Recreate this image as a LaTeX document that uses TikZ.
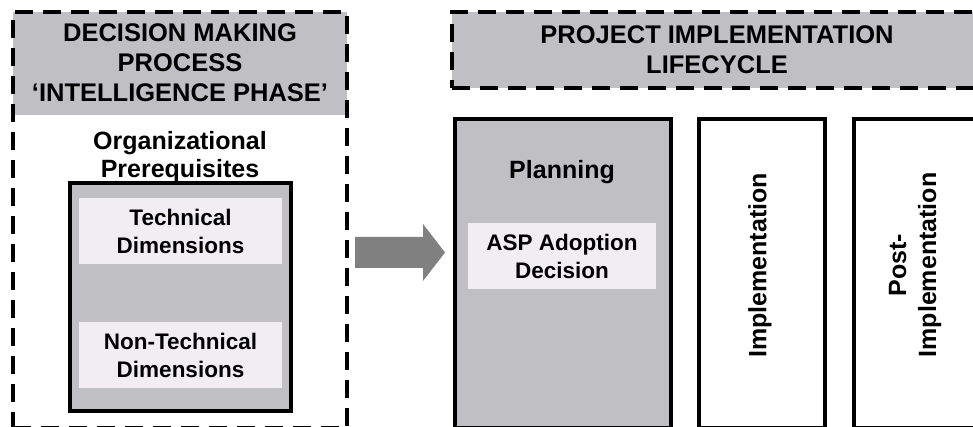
\documentclass[tikz,border=0pt]{standalone}
\usepackage{fontspec}
\setmainfont{Liberation Sans}
\usetikzlibrary{calc}
\definecolor{boxgray}{RGB}{192,191,196}
\definecolor{boxlight}{RGB}{240,238,242}
\definecolor{arrowgray}{RGB}{128,128,128}
\begin{document}
\begin{tikzpicture}[x=1pt,y=-1pt,
  every node/.style={inner sep=0pt, outer sep=0pt},
  dashframe/.style={draw=black, line width=4pt, dash pattern=on 18pt off 10pt},
  solidbox/.style={draw=black, line width=3.5pt},
  hdr/.style={font=\fontsize{25.5}{30}\selectfont\bfseries, align=center},
  lbl/.style={font=\fontsize{25}{28}\selectfont\bfseries, align=center},
  rotlbl/.style={font=\fontsize{25}{30}\selectfont\bfseries, align=center, rotate=90},
  sublbl/.style={font=\fontsize{22.5}{28}\selectfont\bfseries, align=center}
]
\useasboundingbox (0,0) rectangle (973,427);
\clip (0,0) rectangle (973,427);

% ---- left: decision making process ----
\node[fill=boxgray, minimum width=334pt, minimum height=103pt] (lefthead) at (180,63.5) {};
\node[hdr] (lefttitle) at (180,63) {DECISION MAKING\\PROCESS\\‘INTELLIGENCE PHASE’};
\node[dashframe, minimum width=334pt, minimum height=416pt] (leftframe) at (180,220) {};
\node[lbl] (orglbl) at (180,157.5) {Organizational\\Prerequisites};
\node[solidbox, fill=boxgray, minimum width=221pt, minimum height=228pt] (innerbox) at (180.5,297) {};
\node[sublbl, fill=boxlight, minimum width=203pt, minimum height=66pt] (tech) at (180.5,231) {Technical\\Dimensions};
\node[sublbl, fill=boxlight, minimum width=203pt, minimum height=66pt] (nontech) at (180.5,355) {Non-Technical\\Dimensions};

% ---- right: project implementation lifecycle ----
\node[hdr, dashframe, fill=boxgray, minimum width=530pt, minimum height=76pt] (righthead) at (717,50) {PROJECT IMPLEMENTATION\\LIFECYCLE};
\node[solidbox, fill=boxgray, minimum width=216pt, minimum height=309pt] (planning) at (563,273.5) {};
\node[lbl, anchor=base] (planlbl) at (562,179) {Planning};
\node[sublbl, fill=boxlight, minimum width=188pt, minimum height=66pt] (asp) at (562,256) {ASP Adoption\\Decision};
\node[solidbox, minimum width=126pt, minimum height=309pt] (impl) at (762,273.5) {};
\node[rotlbl] (impllbl) at (760,265.5) {Implementation};
\node[solidbox, minimum width=126pt, minimum height=309pt] (post) at (917,273.5) {};
\node[rotlbl] (postlbl) at (915,265) {Post-\\Implementation};

% ---- big arrow ----
\coordinate (arrowlevel) at (0,252.5);
\coordinate (as) at ([xshift=8pt]leftframe.east |- arrowlevel);
\coordinate (ae) at ([xshift=-10pt]planning.west |- arrowlevel);
\fill[arrowgray] ($(as)+(0,-15.5)$) -- ($(ae)+(-22,-15.5)$) -- ($(ae)+(-22,-28.5)$) -- (ae)
  -- ($(ae)+(-22,28.5)$) -- ($(ae)+(-22,15.5)$) -- ($(as)+(0,15.5)$) -- cycle;
\end{tikzpicture}
\end{document}
